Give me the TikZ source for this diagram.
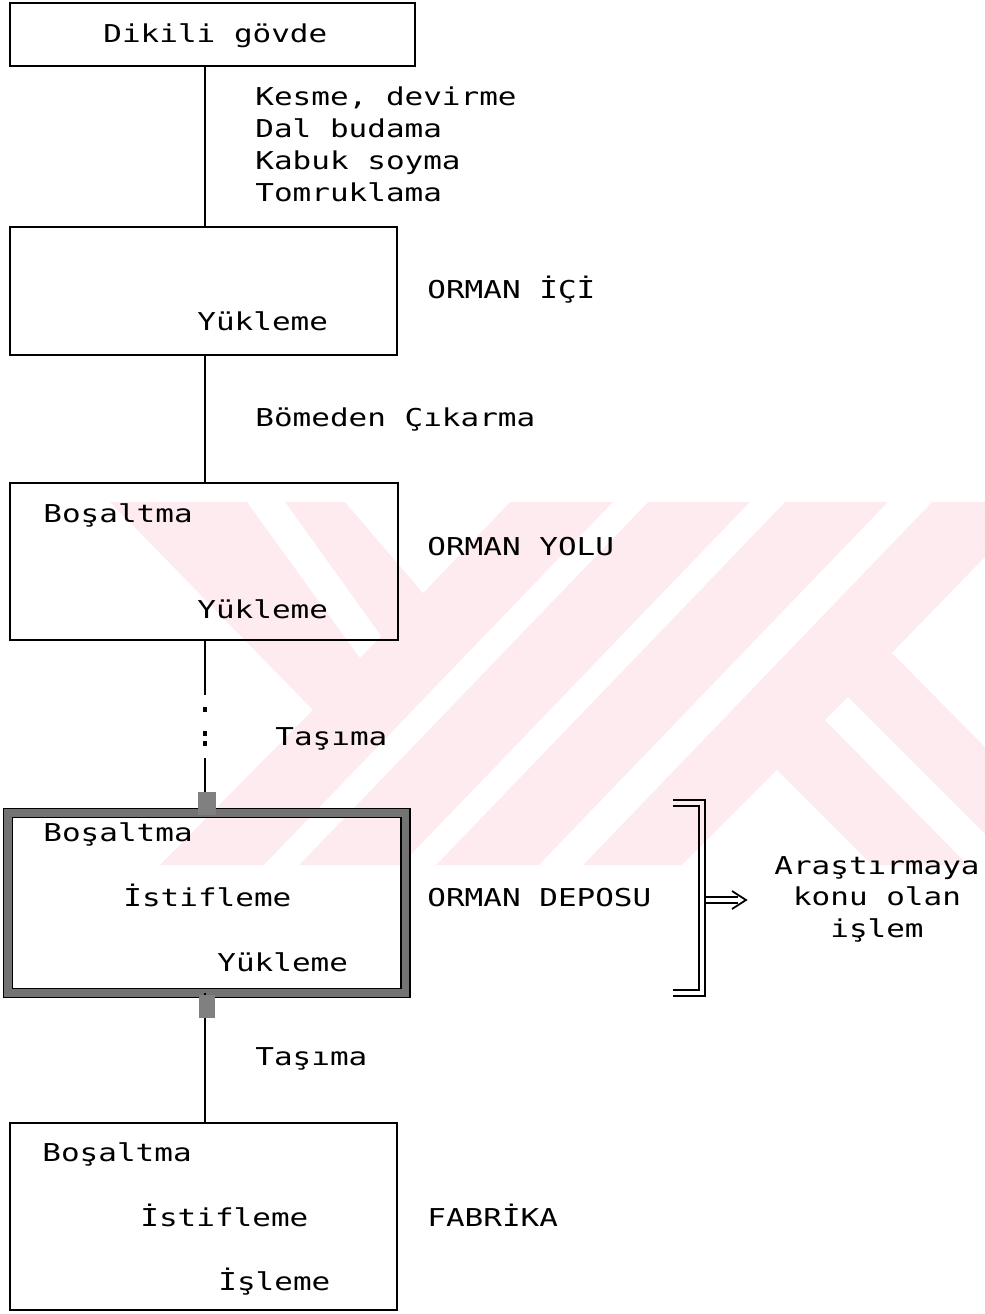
\documentclass[tikz,border=0pt]{standalone}
\usepackage{fontspec}
\newfontfamily\dm[FakeStretch=1.26]{DejaVu Sans Mono}
\definecolor{wm}{RGB}{253,235,239}
\begin{document}
\begin{tikzpicture}[x=0.5pt,y=-0.5pt,
  every node/.style={font=\dm\fontsize{12.3pt}{14pt}\selectfont, inner sep=0pt},
  box/.style={draw, line width=1pt, inner sep=0pt},
  lbl/.style={anchor=base west},
  clbl/.style={anchor=base},
  conn/.style={line width=1pt},
  blank/.style={fill=white},
  checker/.style={fill=black!50}]
\useasboundingbox (0,0) rectangle (985,1314);
% watermark
\fill[wm] (110,502) -- (985,502) -- (985,865) -- (160,865) -- (313,710) -- cycle;
\fill[blank] (613,502) -- (648,502) -- (299,865) -- (264,865) -- cycle;
\fill[blank] (750,502) -- (785,502) -- (436,865) -- (401,865) -- cycle;
\fill[blank] (888,502) -- (932,502) -- (583,865) -- (539,865) -- cycle;
\fill[blank] (247,502) -- (285,502) -- (381,636) -- (360,658) -- cycle;
\fill[blank] (345,502) -- (423,593) -- (510,502) -- cycle;
\fill[blank] (985,557) -- (892,653) -- (985,747) -- cycle;
\fill[blank] (848,697) -- (985,834) -- (985,865) -- (968,865) -- (825,720) -- cycle;
\fill[blank] (682,865) -- (777,770) -- (872,865) -- cycle;

% boxes
\node[box, minimum width=202.5pt, minimum height=31.5pt] (b1) at (212.5,34.5) {};
\node[box, minimum width=193.5pt, minimum height=64pt] (b2) at (203.5,291) {};
\node[box, minimum width=194pt, minimum height=78.5pt] (b3) at (204,561.5) {};
\node[draw=black!55, line width=5pt, outer sep=0pt, inner sep=0pt, minimum width=198.75pt, minimum height=90pt] (b4) at (206.75,903) {};
\draw[line width=0.7pt] ([xshift=-2.2pt,yshift=2.2pt]b4.north west) rectangle ([xshift=2.2pt,yshift=-2.2pt]b4.south east);
\draw[line width=0.7pt] ([xshift=2.2pt,yshift=-2.2pt]b4.north west) rectangle ([xshift=-2.2pt,yshift=2.2pt]b4.south east);
\node[box, minimum width=193.5pt, minimum height=93.5pt] (b5) at (203.5,1216.5) {};

% connectors
\coordinate (cx) at (205,0);
\coordinate (gapa) at (205,695);
\coordinate (gapb) at (205,758);
\draw[conn] (b1.south -| cx) -- (b2.north -| cx);
\draw[conn] (b2.south -| cx) -- (b3.north -| cx);
\draw[conn] (b3.south -| cx) -- (gapa);
\fill (203,707) rectangle (207,712);
\fill (203,731) rectangle (207,736);
\fill (203,741) rectangle (207,746);
\draw[conn] (gapb) -- (b4.north -| cx);
\draw[conn] (b4.south -| cx) -- (b5.north -| cx);
\fill[checker] (198,792) rectangle (216,815);
\fill[checker] (199,995) rectangle (215,1018);

% texts
\node[lbl] (t1) at (103,42) {Dikili gövde};
\node[lbl] (k1) at (255,105) {Kesme, devirme};
\node[lbl] (k2) at (255,137) {Dal budama};
\node[lbl] (k3) at (255,169) {Kabuk soyma};
\node[lbl] (k4) at (255,201) {Tomruklama};
\node[lbl] (oi) at (427,298) {ORMAN İÇİ};
\node[lbl] (y2) at (197,330) {Yükleme};
\node[lbl] (bc) at (255,426) {Bömeden Çıkarma};
\node[lbl] (b3a) at (43,522) {Boşaltma};
\node[lbl] (oy) at (427,555) {ORMAN YOLU};
\node[lbl] (y3) at (197,618) {Yükleme};
\node[lbl] (ts1) at (275,745) {Taşıma};
\node[lbl] (b4a) at (43,841) {Boşaltma};
\node[lbl] (i4) at (123,906) {İstifleme};
\node[lbl] (od) at (427,906) {ORMAN DEPOSU};
\node[lbl] (y4) at (217,971) {Yükleme};
\node[lbl] (ts2) at (255,1065) {Taşıma};
\node[lbl] (b5a) at (42,1161) {Boşaltma};
\node[lbl] (i5) at (140,1226) {İstifleme};
\node[lbl] (fb) at (427,1226) {FABRİKA};
\node[lbl] (is5) at (218,1290) {İşleme};
\node[clbl] (g1) at (877,874) {Araştırmaya};
\node[clbl] (g2) at (877,905) {konu olan};
\node[clbl] (g3) at (877,937) {işlem};

% bracket and arrow
\draw[line width=0.9pt] (673,800) -- (705,800) -- (705,996) -- (673,996);
\draw[line width=0.9pt] (673,806) -- (699,806) -- (699,990) -- (673,990);
\coordinate (br) at (705,900);
\draw[line width=0.9pt] ([yshift=1.5pt]br) -- ++(33,0);
\draw[line width=0.9pt] ([yshift=-1.5pt]br) -- ++(33,0);
\draw[line width=0.9pt] ([xshift=13.5pt,yshift=4.5pt]br) -- ([xshift=20.5pt]br) -- ([xshift=13.5pt,yshift=-4.5pt]br);
\end{tikzpicture}
\end{document}
